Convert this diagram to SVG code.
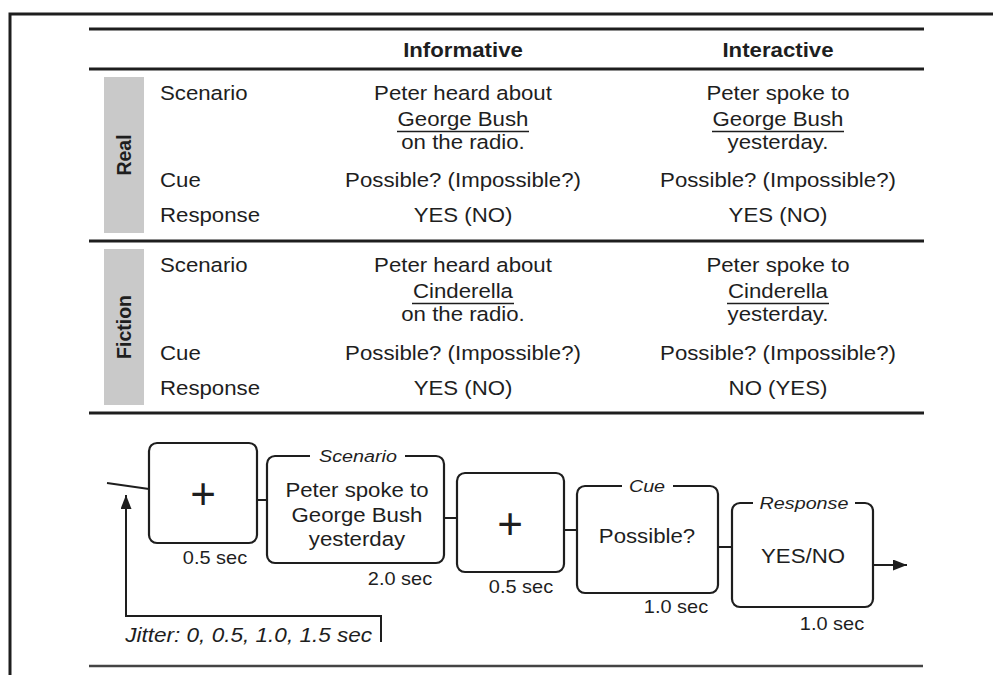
<svg xmlns="http://www.w3.org/2000/svg" width="993" height="675" viewBox="0 0 993 675">
  <style>
    .t { font-family: "Liberation Sans", Arial, sans-serif; font-size: 19.5px; fill: #1e1e1e;
         transform-box: fill-box; transform-origin: center; transform: scaleX(1.14); }
    .l { transform-origin: left center; }
    .c { text-anchor: middle; }
    .b { font-weight: bold; }
    .s { font-size: 17.5px; }
    .i { font-style: italic; font-size: 17.3px; }
    .rot { font-family: "Liberation Sans", Arial, sans-serif; font-size: 19.5px; font-weight: bold; fill: #1e1e1e; text-anchor: middle; }
    .rule { stroke: #1e1e1e; stroke-width: 3; }
    .ul { stroke: #1e1e1e; stroke-width: 1.5; }
    .box { fill: none; stroke: #1e1e1e; stroke-width: 2.2; }
    .conn { fill: none; stroke: #1e1e1e; stroke-width: 2; }
    .gray { fill: #c9c9c9; }
    .plus { font-family: "Liberation Sans", Arial, sans-serif; font-size: 44px; fill: #1e1e1e; text-anchor: middle; }
  </style>
  <defs>
    <marker id="ah" viewBox="0 0 14 11" refX="14" refY="5.5" markerWidth="14" markerHeight="11" markerUnits="userSpaceOnUse" orient="auto">
      <path d="M0,0 L14,5.5 L0,11 z" fill="#1e1e1e"/>
    </marker>
  </defs>
  <rect width="993" height="675" fill="#ffffff"/>

  <!-- frame -->
  <g id="frame">
    <path d="M10,675 V14 H993" fill="none" stroke="#1e1e1e" stroke-width="3"/>
  </g>

  <!-- table -->
  <g id="table">
    <line class="rule" x1="89" y1="29" x2="924" y2="29"/>
    <line class="rule" x1="89" y1="69" x2="924" y2="69"/>
    <line class="rule" x1="89" y1="241" x2="924" y2="241"/>
    <line class="rule" x1="89" y1="413" x2="924" y2="413"/>
    <text class="t b c" x="463" y="57">Informative</text>
    <text class="t b c" x="778" y="57">Interactive</text>
  </g>

  <g id="real">
    <rect class="gray" x="104" y="77" width="40" height="156"/>
    <text class="rot" transform="translate(131,155) rotate(-90)">Real</text>
    <text class="t l" x="160" y="100">Scenario</text>
    <text class="t l" x="160" y="187">Cue</text>
    <text class="t l" x="160" y="222">Response</text>
    <text class="t c" x="463" y="100">Peter heard about</text>
    <text class="t c" x="463" y="126">George Bush</text>
    <line class="ul" x1="397" y1="131.5" x2="529" y2="131.5"/>
    <text class="t c" x="463" y="149">on the radio.</text>
    <text class="t c" x="463" y="187">Possible? (Impossible?)</text>
    <text class="t c" x="463" y="222">YES (NO)</text>
    <text class="t c" x="778" y="100">Peter spoke to</text>
    <text class="t c" x="778" y="126">George Bush</text>
    <line class="ul" x1="712" y1="131.5" x2="844" y2="131.5"/>
    <text class="t c" x="778" y="149">yesterday.</text>
    <text class="t c" x="778" y="187">Possible? (Impossible?)</text>
    <text class="t c" x="778" y="222">YES (NO)</text>
  </g>

  <g id="fiction">
    <rect class="gray" x="104" y="249" width="40" height="156"/>
    <text class="rot" transform="translate(131,327) rotate(-90)">Fiction</text>
    <text class="t l" x="160" y="272">Scenario</text>
    <text class="t l" x="160" y="360">Cue</text>
    <text class="t l" x="160" y="395">Response</text>
    <text class="t c" x="463" y="272">Peter heard about</text>
    <text class="t c" x="463" y="298">Cinderella</text>
    <line class="ul" x1="412" y1="303.5" x2="514" y2="303.5"/>
    <text class="t c" x="463" y="321">on the radio.</text>
    <text class="t c" x="463" y="360">Possible? (Impossible?)</text>
    <text class="t c" x="463" y="395">YES (NO)</text>
    <text class="t c" x="778" y="272">Peter spoke to</text>
    <text class="t c" x="778" y="298">Cinderella</text>
    <line class="ul" x1="727" y1="303.5" x2="829" y2="303.5"/>
    <text class="t c" x="778" y="321">yesterday.</text>
    <text class="t c" x="778" y="360">Possible? (Impossible?)</text>
    <text class="t c" x="778" y="395">NO (YES)</text>
  </g>

  <!-- timeline nodes -->
  <g id="fix1">
    <rect class="box" x="149" y="443" width="108" height="100" rx="8"/>
    <text class="plus" x="203" y="509">+</text>
    <text class="t c s" x="215" y="564">0.5 sec</text>
  </g>
  <g id="scenario">
    <path class="box" d="M310,456 H275 A8,8 0 0 0 267,464 V555 A8,8 0 0 0 275,563 H436 A8,8 0 0 0 444,555 V464 A8,8 0 0 0 436,456 H405"/>
    <text class="t c i" x="358" y="462">Scenario</text>
    <text class="t c" x="357" y="497">Peter spoke to</text>
    <text class="t c" x="357" y="522">George Bush</text>
    <text class="t c" x="357" y="546">yesterday</text>
    <text class="t c s" x="400" y="585">2.0 sec</text>
  </g>
  <g id="fix2">
    <rect class="box" x="457" y="473" width="107" height="99" rx="8"/>
    <text class="plus" x="510" y="539">+</text>
    <text class="t c s" x="521" y="593">0.5 sec</text>
  </g>
  <g id="cue">
    <path class="box" d="M622,486 H585 A8,8 0 0 0 577,494 V585 A8,8 0 0 0 585,593 H710 A8,8 0 0 0 718,585 V494 A8,8 0 0 0 710,486 H673"/>
    <text class="t c i" x="647" y="492">Cue</text>
    <text class="t c" x="647" y="543">Possible?</text>
    <text class="t c s" x="676" y="613">1.0 sec</text>
  </g>
  <g id="response">
    <path class="box" d="M753,503 H740 A8,8 0 0 0 732,511 V599 A8,8 0 0 0 740,607 H865 A8,8 0 0 0 873,599 V511 A8,8 0 0 0 865,503 H855"/>
    <text class="t c i" x="804" y="509">Response</text>
    <text class="t c" x="803" y="563">YES/NO</text>
    <text class="t c s" x="832" y="630">1.0 sec</text>
  </g>
  <g id="jitter">
    <text class="t l i" x="125" y="642" style="font-size:19.8px">Jitter: 0, 0.5, 1.0, 1.5 sec</text>
  </g>

  <!-- connectors -->
  <g id="connectors">
    <line class="conn" x1="107" y1="483" x2="149" y2="489"/>
    <line class="conn" x1="257" y1="500" x2="267" y2="500"/>
    <line class="conn" x1="444" y1="518" x2="457" y2="518"/>
    <line class="conn" x1="564" y1="530" x2="577" y2="530"/>
    <line class="conn" x1="718" y1="547" x2="732" y2="547"/>
    <line class="conn" x1="873" y1="565" x2="907" y2="565" marker-end="url(#ah)"/>
    <path class="conn" d="M381,642 V616 H126 V495" marker-end="url(#ah)"/>
  </g>

  <g id="bottom">
    <line x1="89" y1="666" x2="923" y2="666" stroke="#444" stroke-width="2.5"/>
  </g>
</svg>
